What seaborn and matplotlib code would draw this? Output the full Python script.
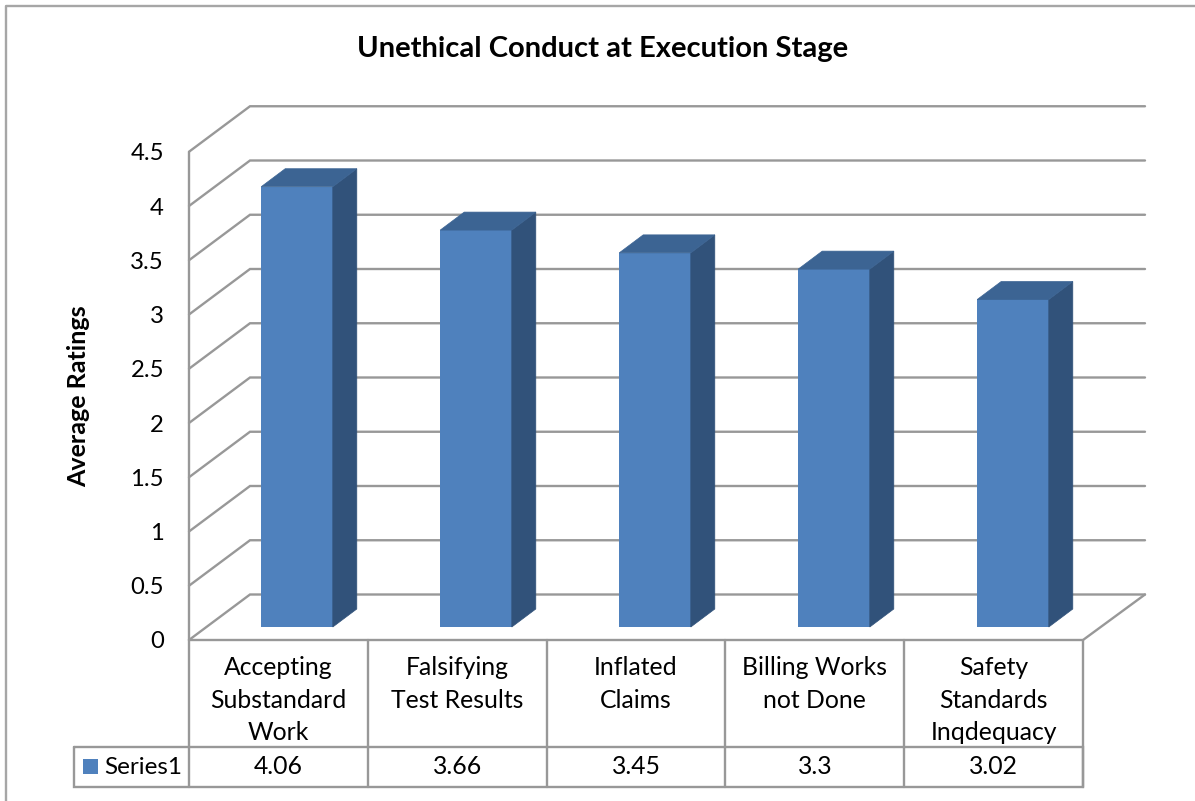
import matplotlib
matplotlib.use("Agg")
import matplotlib.pyplot as plt
import seaborn as sns
from matplotlib.patches import Polygon, Rectangle
from matplotlib.transforms import IdentityTransform

categories = ["Accepting\nSubstandard\nWork", "Falsifying\nTest Results", "Inflated\nClaims",
              "Billing Works\nnot Done", "Safety\nStandards\nInqdequacy"]
ratings = [4.06, 3.66, 3.45, 3.3, 3.02]
y_ticks = [0, 0.5, 1, 1.5, 2, 2.5, 3, 3.5, 4, 4.5]
y_labels = ["0", "0.5", "1", "1.5", "2", "2.5", "3", "3.5", "4", "4.5"]
series_name = "Series1"
title = "Unethical Conduct at Execution Stage"
y_title = "Average Ratings"

W, H = 1195, 801
FRONT = "#4F81BD"
SIDE = "#31527A"
TOP = "#3C6493"
LINE = "#989898"
LW = 1.7

sns.set_theme(style="white")
plt.rcParams["font.family"] = ["Lato", "DejaVu Sans"]

fig = plt.figure(figsize=(W / 100, H / 100), dpi=100)


def px_axes(left, right, top, bottom):
    return fig.add_axes([left / W, 1 - bottom / H, (right - left) / W, (bottom - top) / H])


# pixel canvas for the frame, walls and table lines
bg = px_axes(0, W, 0, H)
bg.set_xlim(0, W)
bg.set_ylim(H, 0)
bg.axis("off")

# front plane of the box, carries the value axis
front = px_axes(189, 1083, 152, 640)
front.set_xlim(-0.5, 4.5)
front.set_ylim(0, 4.5)
front.patch.set_alpha(0)
sns.despine(ax=front, left=True, bottom=True, top=True, right=True)
front.set_xticks([])
front.set_yticks(y_ticks)
front.set_yticklabels(y_labels, fontsize=17.2, color="black")
front.tick_params(axis="y", length=0, pad=18)
front.set_ylabel(y_title, fontsize=18, fontweight="bold", color="black", labelpad=29)

# plane the bars stand on, shifted into the box
ax = px_axes(207.5, 1102.5, 139, 627)
ax.patch.set_alpha(0)
sns.barplot(x=categories, y=ratings, color=FRONT, saturation=1, width=0.4, edgecolor=FRONT, linewidth=0, ax=ax)
ax.set_xlim(-0.5, 4.5)
ax.set_ylim(0, 4.5)
ax.axis("off")

# outer frame
bg.plot([6, 6, W], [H, 6, 6], color="#a6a6a6", lw=LW, clip_on=False)

# walls and gridlines
bx0, bx1 = 250, 1145
fy0, by0 = 640, 594.5
unit = 108.5
for v in y_ticks:
    fy = fy0 - v * unit
    by = by0 - v * unit
    bg.plot([189, bx0, bx1], [fy, by, by], color=LINE, lw=LW, solid_joinstyle="miter")
bg.plot([189, 189], [fy0, fy0 - y_ticks[-1] * unit], color=LINE, lw=LW)
bg.plot([bx1, 1083, 189], [by0, fy0, fy0], color=LINE, lw=LW, solid_joinstyle="miter")

# side and top faces of each bar
dx, dy = 24, 18
for bar in ax.patches:
    (x0, y0), (x1, y1) = ax.transData.transform(
        [(bar.get_x(), 0), (bar.get_x() + bar.get_width(), bar.get_height())])
    side = Polygon([(x1, y0), (x1 + dx, y0 + dy), (x1 + dx, y1 + dy), (x1, y1)],
                   facecolor=SIDE, edgecolor=SIDE, lw=0.5, transform=IdentityTransform(), clip_on=False)
    top = Polygon([(x0, y1), (x1, y1), (x1 + dx, y1 + dy), (x0 + dx, y1 + dy)],
                  facecolor=TOP, edgecolor=TOP, lw=0.5, transform=IdentityTransform(), clip_on=False)
    ax.add_artist(side)
    ax.add_artist(top)

# data table
col_w = (1083 - 189) / len(categories)
table_top, row_line, table_bottom = 640, 746.5, 787
for i in range(len(categories) + 1):
    x = 189 + i * col_w
    bg.plot([x, x], [table_top, table_bottom], color=LINE, lw=LW)
bg.plot([74, 1083, 1083, 74, 74], [row_line, row_line, table_bottom, table_bottom, row_line],
        color=LINE, lw=LW, solid_joinstyle="miter")
for i, (name, val) in enumerate(zip(categories, ratings)):
    cx = 189 + (i + 0.5) * col_w
    bg.text(cx, 656, name, ha="center", va="top", fontsize=17.8, color="black", linespacing=1.5)
    bg.text(cx, 767, f"{val:g}", ha="center", va="center", fontsize=17.8, color="black")
bg.add_patch(Rectangle((83, 759), 15, 15, facecolor=FRONT, edgecolor="none"))
bg.text(104, 767, series_name, ha="left", va="center", fontsize=17.5, color="black")

bg.text(603, 49, title, ha="center", va="center", fontsize=21, fontweight="bold", color="black")

fig.savefig("out.png", dpi=100, facecolor="white")
